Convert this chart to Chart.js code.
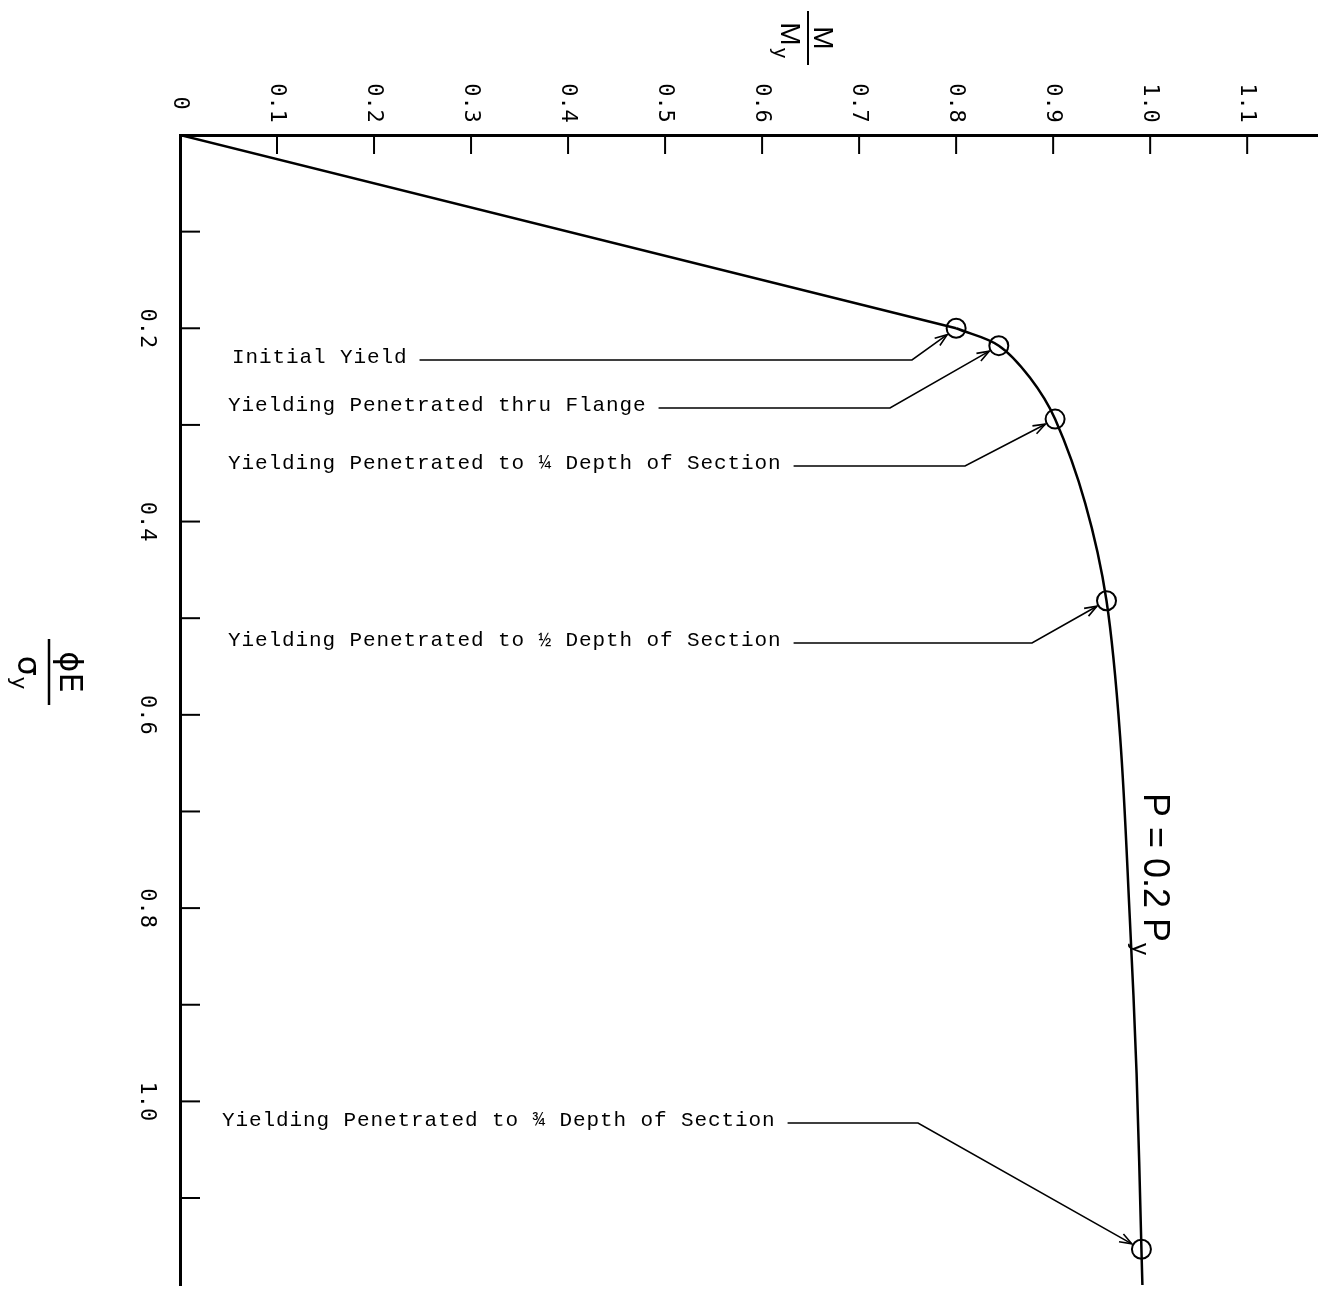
<!DOCTYPE html>
<html>
<head>
<meta charset="utf-8">
<script src="https://cdn.jsdelivr.net/npm/chart.js@4.4.1/dist/chart.umd.min.js"></script>
<style>
  html, body { margin: 0; padding: 0; background: #fff; }
  canvas { display: block; }
</style>
</head>
<body>
<canvas id="chart" width="1318" height="1290"></canvas>
<script>
// moment-curvature, P = 0.2 Py (M/My across, phiE/sigma_y down)
var elasticM = [0, 0.80];
var elasticPhi = [0, 0.20];

var plasticM = [0.80, 0.844, 0.876, 0.902, 0.933, 0.955, 0.969, 0.979, 0.986, 0.991, 0.992];
var plasticPhi = [0.20, 0.218, 0.251, 0.294, 0.381, 0.482, 0.622, 0.810, 0.971, 1.153, 1.19];

var markerM = [0.80, 0.844, 0.902, 0.955, 0.991];
var markerPhi = [0.20, 0.218, 0.294, 0.482, 1.153];

var markerNotes = [
    'Initial Yield',
    'Yielding Penetrated thru Flange',
    'Yielding Penetrated to \u00BC Depth of Section',
    'Yielding Penetrated to \u00BD Depth of Section',
    'Yielding Penetrated to \u00BE Depth of Section'
];

var xTickValues = [0.1, 0.2, 0.3, 0.4, 0.5, 0.6, 0.7, 0.8, 0.9, 1.0, 1.1];
var xLabelValues = [0, 0.1, 0.2, 0.3, 0.4, 0.5, 0.6, 0.7, 0.8, 0.9, 1.0, 1.1];
var xLabels = ['0', '0.1', '0.2', '0.3', '0.4', '0.5', '0.6', '0.7', '0.8', '0.9', '1.0', '1.1'];

var yTickValues = [0.1, 0.2, 0.3, 0.4, 0.5, 0.6, 0.7, 0.8, 0.9, 1.0, 1.1];
var yLabelValues = [0.2, 0.4, 0.6, 0.8, 1.0];
var yLabels = ['0.2', '0.4', '0.6', '0.8', '1.0'];

function toPoints(xs, ys) {
    return xs.map(function (x, i) { return { x: x, y: ys[i] }; });
}

// where each note's text sits and where its leader line turns toward the marker
var notePlaces = [
    { x: 232, y: 357, turn: 912 },
    { x: 228, y: 405, turn: 890 },
    { x: 228, y: 463, turn: 965 },
    { x: 228, y: 640, turn: 1032 },
    { x: 222, y: 1120, turn: 918 }
];

function rotText(ctx, text, x, y, align) {
    ctx.save();
    ctx.translate(x, y);
    ctx.rotate(Math.PI / 2);
    ctx.textAlign = align || 'center';
    ctx.textBaseline = 'middle';
    ctx.fillText(text, 0, 0);
    ctx.restore();
}

function arrowHead(ctx, x0, y0, x1, y1) {
    var a = Math.atan2(y1 - y0, x1 - x0);
    var len = 13, spread = 0.35;
    ctx.beginPath();
    ctx.moveTo(x1 - len * Math.cos(a - spread), y1 - len * Math.sin(a - spread));
    ctx.lineTo(x1, y1);
    ctx.lineTo(x1 - len * Math.cos(a + spread), y1 - len * Math.sin(a + spread));
    ctx.stroke();
}

var decor = {
    id: 'decor',
    afterDraw: function (chart) {
        var ctx = chart.ctx;
        var xs = chart.scales.x, ys = chart.scales.y;
        var area = chart.chartArea;
        ctx.save();
        ctx.strokeStyle = '#000';
        ctx.fillStyle = '#000';

        // inward ticks
        ctx.lineWidth = 2;
        xTickValues.forEach(function (v) {
            var px = xs.getPixelForValue(v);
            ctx.beginPath();
            ctx.moveTo(px, area.top);
            ctx.lineTo(px, area.top + 19);
            ctx.stroke();
        });
        yTickValues.forEach(function (v) {
            var py = ys.getPixelForValue(v);
            ctx.beginPath();
            ctx.moveTo(area.left, py);
            ctx.lineTo(area.left + 20, py);
            ctx.stroke();
        });

        // tick labels, turned a quarter clockwise
        ctx.font = '22px "DejaVu Sans Mono", "Liberation Mono", monospace';
        xLabelValues.forEach(function (v, i) {
            rotText(ctx, xLabels[i], xs.getPixelForValue(v), 103);
        });
        yLabelValues.forEach(function (v, i) {
            rotText(ctx, yLabels[i], 147, ys.getPixelForValue(v));
        });

        // axis titles as fractions
        ctx.save();
        ctx.translate(808, 38);
        ctx.rotate(Math.PI / 2);
        ctx.lineWidth = 2;
        ctx.beginPath();
        ctx.moveTo(-27, 0);
        ctx.lineTo(27, 0);
        ctx.stroke();
        ctx.textBaseline = 'alphabetic';
        ctx.textAlign = 'center';
        ctx.font = '28px "Liberation Sans", Arial, sans-serif';
        ctx.fillText('M', 0, -6);
        ctx.fillText('M', -4, 27);
        ctx.font = '20px "Liberation Sans", Arial, sans-serif';
        ctx.fillText('y', 15, 34);
        ctx.restore();

        ctx.save();
        ctx.translate(49, 672);
        ctx.rotate(Math.PI / 2);
        ctx.lineWidth = 2.5;
        ctx.beginPath();
        ctx.moveTo(-33, 0);
        ctx.lineTo(33, 0);
        ctx.stroke();
        ctx.textAlign = 'center';
        ctx.textBaseline = 'alphabetic';
        ctx.font = '32px "DejaVu Sans", sans-serif';
        ctx.fillText('\u03D5E', 0, -11);
        ctx.fillText('\u03C3', -6, 31);
        ctx.font = '22px "DejaVu Sans", sans-serif';
        ctx.fillText('y', 11, 37);
        ctx.restore();

        // curve label
        ctx.save();
        ctx.translate(1157, 793);
        ctx.rotate(Math.PI / 2);
        ctx.textAlign = 'left';
        ctx.textBaseline = 'alphabetic';
        ctx.font = '36px "Liberation Sans", Arial, sans-serif';
        var lbl = 'P = 0.2 P';
        ctx.fillText(lbl, 0, 13);
        var w = ctx.measureText(lbl).width;
        ctx.font = '24px "Liberation Sans", Arial, sans-serif';
        ctx.fillText('y', w + 1, 24);
        ctx.restore();

        // notes with leader lines and arrows to the markers
        ctx.font = '21px "Liberation Mono", "DejaVu Sans Mono", monospace';
        if ('letterSpacing' in ctx) ctx.letterSpacing = '0.9px';
        ctx.textAlign = 'left';
        ctx.textBaseline = 'middle';
        ctx.lineWidth = 1.6;
        markerNotes.forEach(function (note, i) {
            var p = notePlaces[i];
            ctx.fillText(note, p.x, p.y);
            var tw = ctx.measureText(note).width;
            var ly = p.y + 3;
            var mx = xs.getPixelForValue(markerM[i]);
            var my = ys.getPixelForValue(markerPhi[i]);
            var d = Math.hypot(mx - p.turn, my - ly);
            var tipX = mx - (mx - p.turn) / d * 11;
            var tipY = my - (my - ly) / d * 11;
            ctx.beginPath();
            ctx.moveTo(p.x + tw + 12, ly);
            ctx.lineTo(p.turn, ly);
            ctx.lineTo(tipX, tipY);
            ctx.stroke();
            arrowHead(ctx, p.turn, ly, tipX, tipY);
        });
        ctx.restore();
    }
};

new Chart(document.getElementById('chart').getContext('2d'), {
    type: 'scatter',
    data: {
        datasets: [{
            data: toPoints(elasticM, elasticPhi),
            showLine: true,
            borderColor: '#000',
            borderWidth: 2.5,
            pointRadius: 0,
            tension: 0
        }, {
            data: toPoints(plasticM, plasticPhi),
            showLine: true,
            borderColor: '#000',
            borderWidth: 2.5,
            pointRadius: 0,
            tension: 0.35
        }, {
            data: toPoints(markerM, markerPhi),
            showLine: false,
            pointRadius: 9.5,
            pointBackgroundColor: '#fff',
            pointBorderColor: '#000',
            pointBorderWidth: 2
        }]
    },
    options: {
        responsive: false,
        animation: false,
        devicePixelRatio: 1,
        layout: {
            autoPadding: false,
            padding: { left: 180, top: 135, right: 0, bottom: 5 }
        },
        plugins: {
            legend: { display: false },
            tooltip: { enabled: false }
        },
        scales: {
            x: {
                type: 'linear',
                position: 'top',
                min: 0,
                max: 1.173,
                grid: { display: false, drawTicks: false },
                border: { display: true, color: '#000', width: 3 },
                ticks: { display: false }
            },
            y: {
                type: 'linear',
                reverse: true,
                min: 0,
                max: 1.19,
                grid: { display: false, drawTicks: false },
                border: { display: true, color: '#000', width: 3 },
                ticks: { display: false }
            }
        }
    },
    plugins: [decor]
});
</script>
</body>
</html>
